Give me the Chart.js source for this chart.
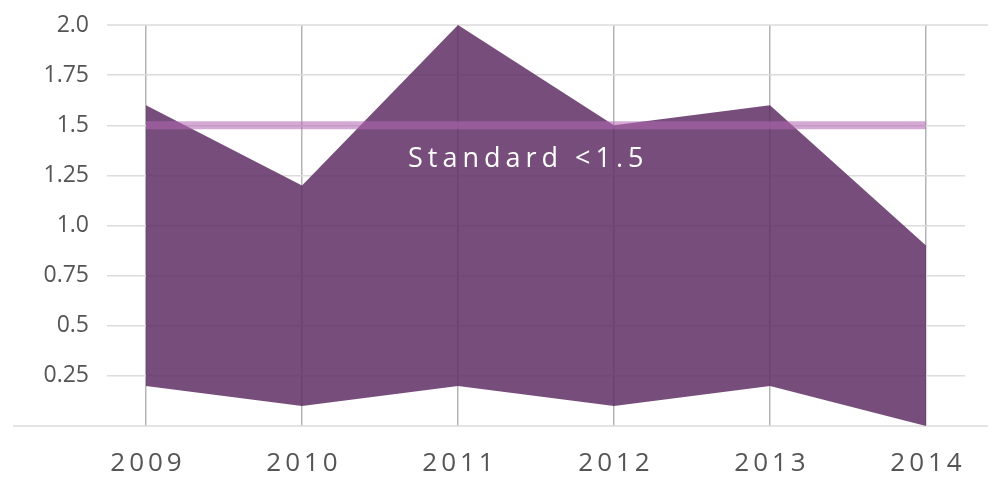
<!DOCTYPE html>
<html lang="en">
<head>
  <meta charset="UTF-8">
  <title>Standard range chart</title>
  <script src="https://cdn.jsdelivr.net/npm/chart.js"></script>
  <style>
    html, body { margin: 0; padding: 0; background: #fff; }
    #wrap { width: 1004px; height: 478px; }
  </style>
</head>
<body>
  <div id="wrap"><canvas id="myChart" width="1004" height="478"></canvas></div>

  <script>
    // chart data
    const years = [2009, 2010, 2011, 2012, 2013, 2014];
    const upperValues = [1.6, 1.2, 2.0, 1.5, 1.6, 0.9];
    const lowerValues = [0.2, 0.1, 0.2, 0.1, 0.2, 0.0];
    const standardValue = 1.5;
    const standardLabel = 'Standard <1.5';
    const labelAnchor = { x: 2011.45, y: 1.33 };

    const toPoints = vals => vals.map((v, i) => ({ x: years[i], y: v }));

    // y tick text: 2.0, 1.75, 1.5 ... blank at zero
    function yTick(v) {
      if (v === 0) return '';
      return Number.isInteger(v * 2) ? v.toFixed(1) : String(v);
    }

    // extra lines, year labels and the standard caption
    const decorPlugin = {
      id: 'decor',
      beforeDatasetsDraw(chart) {
        const ctx = chart.ctx;
        const y = chart.scales.y;
        const area = chart.chartArea;
        ctx.save();
        ctx.strokeStyle = '#dcdcdc';
        ctx.lineWidth = 1.5;
        ctx.beginPath();
        ctx.moveTo(area.left, y.getPixelForValue(2));
        ctx.lineTo(988, y.getPixelForValue(2));
        ctx.moveTo(13, y.getPixelForValue(0));
        ctx.lineTo(988, y.getPixelForValue(0));
        ctx.stroke();
        ctx.restore();
      },
      afterDraw(chart) {
        const ctx = chart.ctx;
        const x = chart.scales.x;
        const y = chart.scales.y;
        ctx.save();
        ctx.font = '26px "Open Sans"';
        ctx.fillStyle = '#555';
        ctx.textAlign = 'center';
        ctx.textBaseline = 'alphabetic';
        ctx.letterSpacing = '4px';
        years.forEach(yr => {
          ctx.fillText(String(yr), x.getPixelForValue(yr) + 2, 471);
        });
        ctx.font = '27px "Open Sans"';
        ctx.fillStyle = '#fff';
        ctx.letterSpacing = '5px';
        ctx.textBaseline = 'middle';
        ctx.fillText(standardLabel, x.getPixelForValue(labelAnchor.x), y.getPixelForValue(labelAnchor.y));
        ctx.restore();
      }
    };

    const ctx = document.getElementById('myChart').getContext('2d');
    const myChart = new Chart(ctx, {
      type: 'line',
      data: {
        datasets: [
          {
            label: 'Standard',
            data: [{ x: years[0], y: standardValue }, { x: years[years.length - 1], y: standardValue }],
            borderColor: 'rgba(180, 106, 181, 0.57)',
            borderWidth: 8,
            borderCapStyle: 'butt',
            pointRadius: 0,
            fill: false
          },
          {
            label: 'Low',
            data: toPoints(lowerValues),
            borderWidth: 0,
            pointRadius: 0,
            fill: false
          },
          {
            label: 'High',
            data: toPoints(upperValues),
            borderWidth: 0,
            pointRadius: 0,
            backgroundColor: 'rgba(95, 46, 100, 0.85)',
            fill: 1
          }
        ]
      },
      options: {
        responsive: false,
        animation: false,
        layout: { padding: { top: 25, right: 39, bottom: 52, left: 0 } },
        plugins: { legend: { display: false }, tooltip: { enabled: false } },
        scales: {
          x: {
            type: 'linear',
            min: 2008.75,
            max: 2014.25,
            afterBuildTicks: s => { s.ticks = years.map(v => ({ value: v })); },
            ticks: { display: false },
            grid: { color: '#b4b4b4', lineWidth: 1.5, drawTicks: false },
            border: { display: false }
          },
          y: {
            min: 0,
            max: 2,
            afterFit: s => { s.width = 107; s.paddingTop = 0; s.paddingBottom = 0; },
            ticks: {
              stepSize: 0.25,
              padding: 18,
              color: '#555',
              font: { family: 'Open Sans', size: 23 },
              callback: yTick
            },
            grid: {
              color: ctx => (ctx.tick.value === 0 || ctx.tick.value === 2) ? 'transparent' : '#dcdcdc',
              lineWidth: 1.5,
              drawTicks: false
            },
            border: { display: false }
          }
        }
      },
      plugins: [decorPlugin]
    });
  </script>
</body>
</html>
